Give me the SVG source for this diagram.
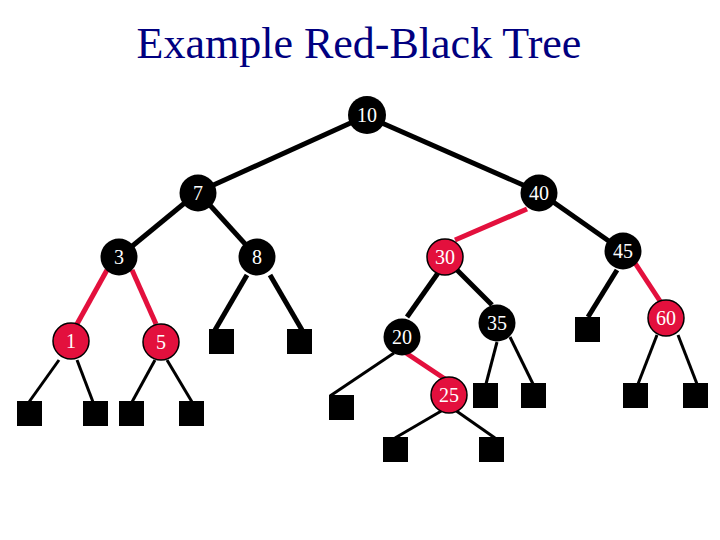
<svg xmlns="http://www.w3.org/2000/svg" width="720" height="540" viewBox="0 0 720 540">
<style>
.title{font-family:"Liberation Serif","Times New Roman",serif;font-size:44px;fill:#000080}
.lbl{font-family:"Liberation Serif","Times New Roman",serif;font-size:20px;fill:#fff;text-anchor:middle}
.b{fill:#000}
.r{fill:#e3103d;stroke:#000;stroke-width:1.5}
.leaf{fill:#000}
.eb{stroke:#000;stroke-width:5;fill:none}
.et{stroke:#000;stroke-width:3;fill:none}
.er{stroke:#e3103d;stroke-width:5;fill:none}
</style>
<rect width="720" height="540" fill="#fff"/>
<text class="title" x="359" y="58" text-anchor="middle">Example Red-Black Tree</text>
<g id="edges">
<line class="eb" x1="366" y1="116" x2="198" y2="192"/>
<line class="eb" x1="366" y1="116" x2="539" y2="192"/>
<line class="eb" x1="198" y1="192" x2="119" y2="257"/>
<line class="eb" x1="198" y1="192" x2="257" y2="257"/>
<line class="eb" x1="539" y1="192" x2="623" y2="251"/>
<line class="er" x1="527" y1="209" x2="455" y2="240"/>
<line class="er" x1="107" y1="270" x2="77" y2="324"/>
<line class="er" x1="132" y1="270" x2="156" y2="324"/>
<line class="eb" x1="247" y1="275" x2="215" y2="330"/>
<line class="eb" x1="270" y1="275" x2="302" y2="330"/>
<line class="eb" x1="438" y1="273" x2="407" y2="317"/>
<line class="eb" x1="457" y1="270" x2="492" y2="305"/>
<line class="eb" x1="617" y1="270" x2="588" y2="317"/>
<line class="er" x1="635" y1="263" x2="660" y2="301"/>
<line class="et" x1="59" y1="360" x2="29" y2="402"/>
<line class="et" x1="77" y1="360" x2="93" y2="402"/>
<line class="et" x1="155" y1="360" x2="132" y2="402"/>
<line class="et" x1="167" y1="360" x2="192" y2="402"/>
<line class="et" x1="394" y1="353" x2="330" y2="396"/>
<line class="er" x1="406" y1="353" x2="445" y2="379"/>
<line class="et" x1="443" y1="410" x2="395" y2="438"/>
<line class="et" x1="455" y1="410" x2="495" y2="438"/>
<line class="et" x1="497" y1="342" x2="486" y2="384"/>
<line class="et" x1="510" y1="337" x2="533" y2="384"/>
<line class="et" x1="657" y1="335" x2="638" y2="384"/>
<line class="et" x1="678" y1="335" x2="697" y2="384"/>
</g>
<g id="n10"><circle class="b" cx="367" cy="115" r="19"/><text class="lbl" x="367" y="122">10</text></g>
<g id="n7"><circle class="b" cx="198" cy="193" r="18.5"/><text class="lbl" x="198" y="200">7</text></g>
<g id="n40"><circle class="b" cx="539" cy="193" r="18.5"/><text class="lbl" x="539" y="200">40</text></g>
<g id="n3"><circle class="b" cx="119" cy="257" r="18.5"/><text class="lbl" x="119" y="264">3</text></g>
<g id="n8"><circle class="b" cx="257" cy="257" r="18.5"/><text class="lbl" x="257" y="264">8</text></g>
<g id="n30"><circle class="r" cx="445" cy="257" r="18"/><text class="lbl" x="445" y="264">30</text></g>
<g id="n45"><circle class="b" cx="623" cy="251" r="18.5"/><text class="lbl" x="623" y="258">45</text></g>
<g id="n1"><circle class="r" cx="71" cy="341" r="18"/><text class="lbl" x="71" y="348">1</text></g>
<g id="n5"><circle class="r" cx="161" cy="342" r="18"/><text class="lbl" x="161" y="349">5</text></g>
<g id="n20"><circle class="b" cx="402" cy="337" r="18.5"/><text class="lbl" x="402" y="344">20</text></g>
<g id="n35"><circle class="b" cx="497" cy="323" r="18.5"/><text class="lbl" x="497" y="330">35</text></g>
<g id="n25"><circle class="r" cx="449" cy="395" r="18"/><text class="lbl" x="449" y="402">25</text></g>
<g id="n60"><circle class="r" cx="666" cy="318" r="18"/><text class="lbl" x="666" y="325">60</text></g>
<g id="leaf1"><rect class="leaf" x="17" y="401" width="25" height="25"/></g>
<g id="leaf2"><rect class="leaf" x="83" y="401" width="25" height="25"/></g>
<g id="leaf3"><rect class="leaf" x="119" y="401" width="25" height="25"/></g>
<g id="leaf4"><rect class="leaf" x="179" y="401" width="25" height="25"/></g>
<g id="leaf5"><rect class="leaf" x="209" y="329" width="25" height="25"/></g>
<g id="leaf6"><rect class="leaf" x="287" y="329" width="25" height="25"/></g>
<g id="leaf7"><rect class="leaf" x="329" y="395" width="25" height="25"/></g>
<g id="leaf8"><rect class="leaf" x="383" y="437" width="25" height="25"/></g>
<g id="leaf9"><rect class="leaf" x="479" y="437" width="25" height="25"/></g>
<g id="leaf10"><rect class="leaf" x="473" y="383" width="25" height="25"/></g>
<g id="leaf11"><rect class="leaf" x="521" y="383" width="25" height="25"/></g>
<g id="leaf12"><rect class="leaf" x="575" y="317" width="25" height="25"/></g>
<g id="leaf13"><rect class="leaf" x="623" y="383" width="25" height="25"/></g>
<g id="leaf14"><rect class="leaf" x="683" y="383" width="25" height="25"/></g>
</svg>
